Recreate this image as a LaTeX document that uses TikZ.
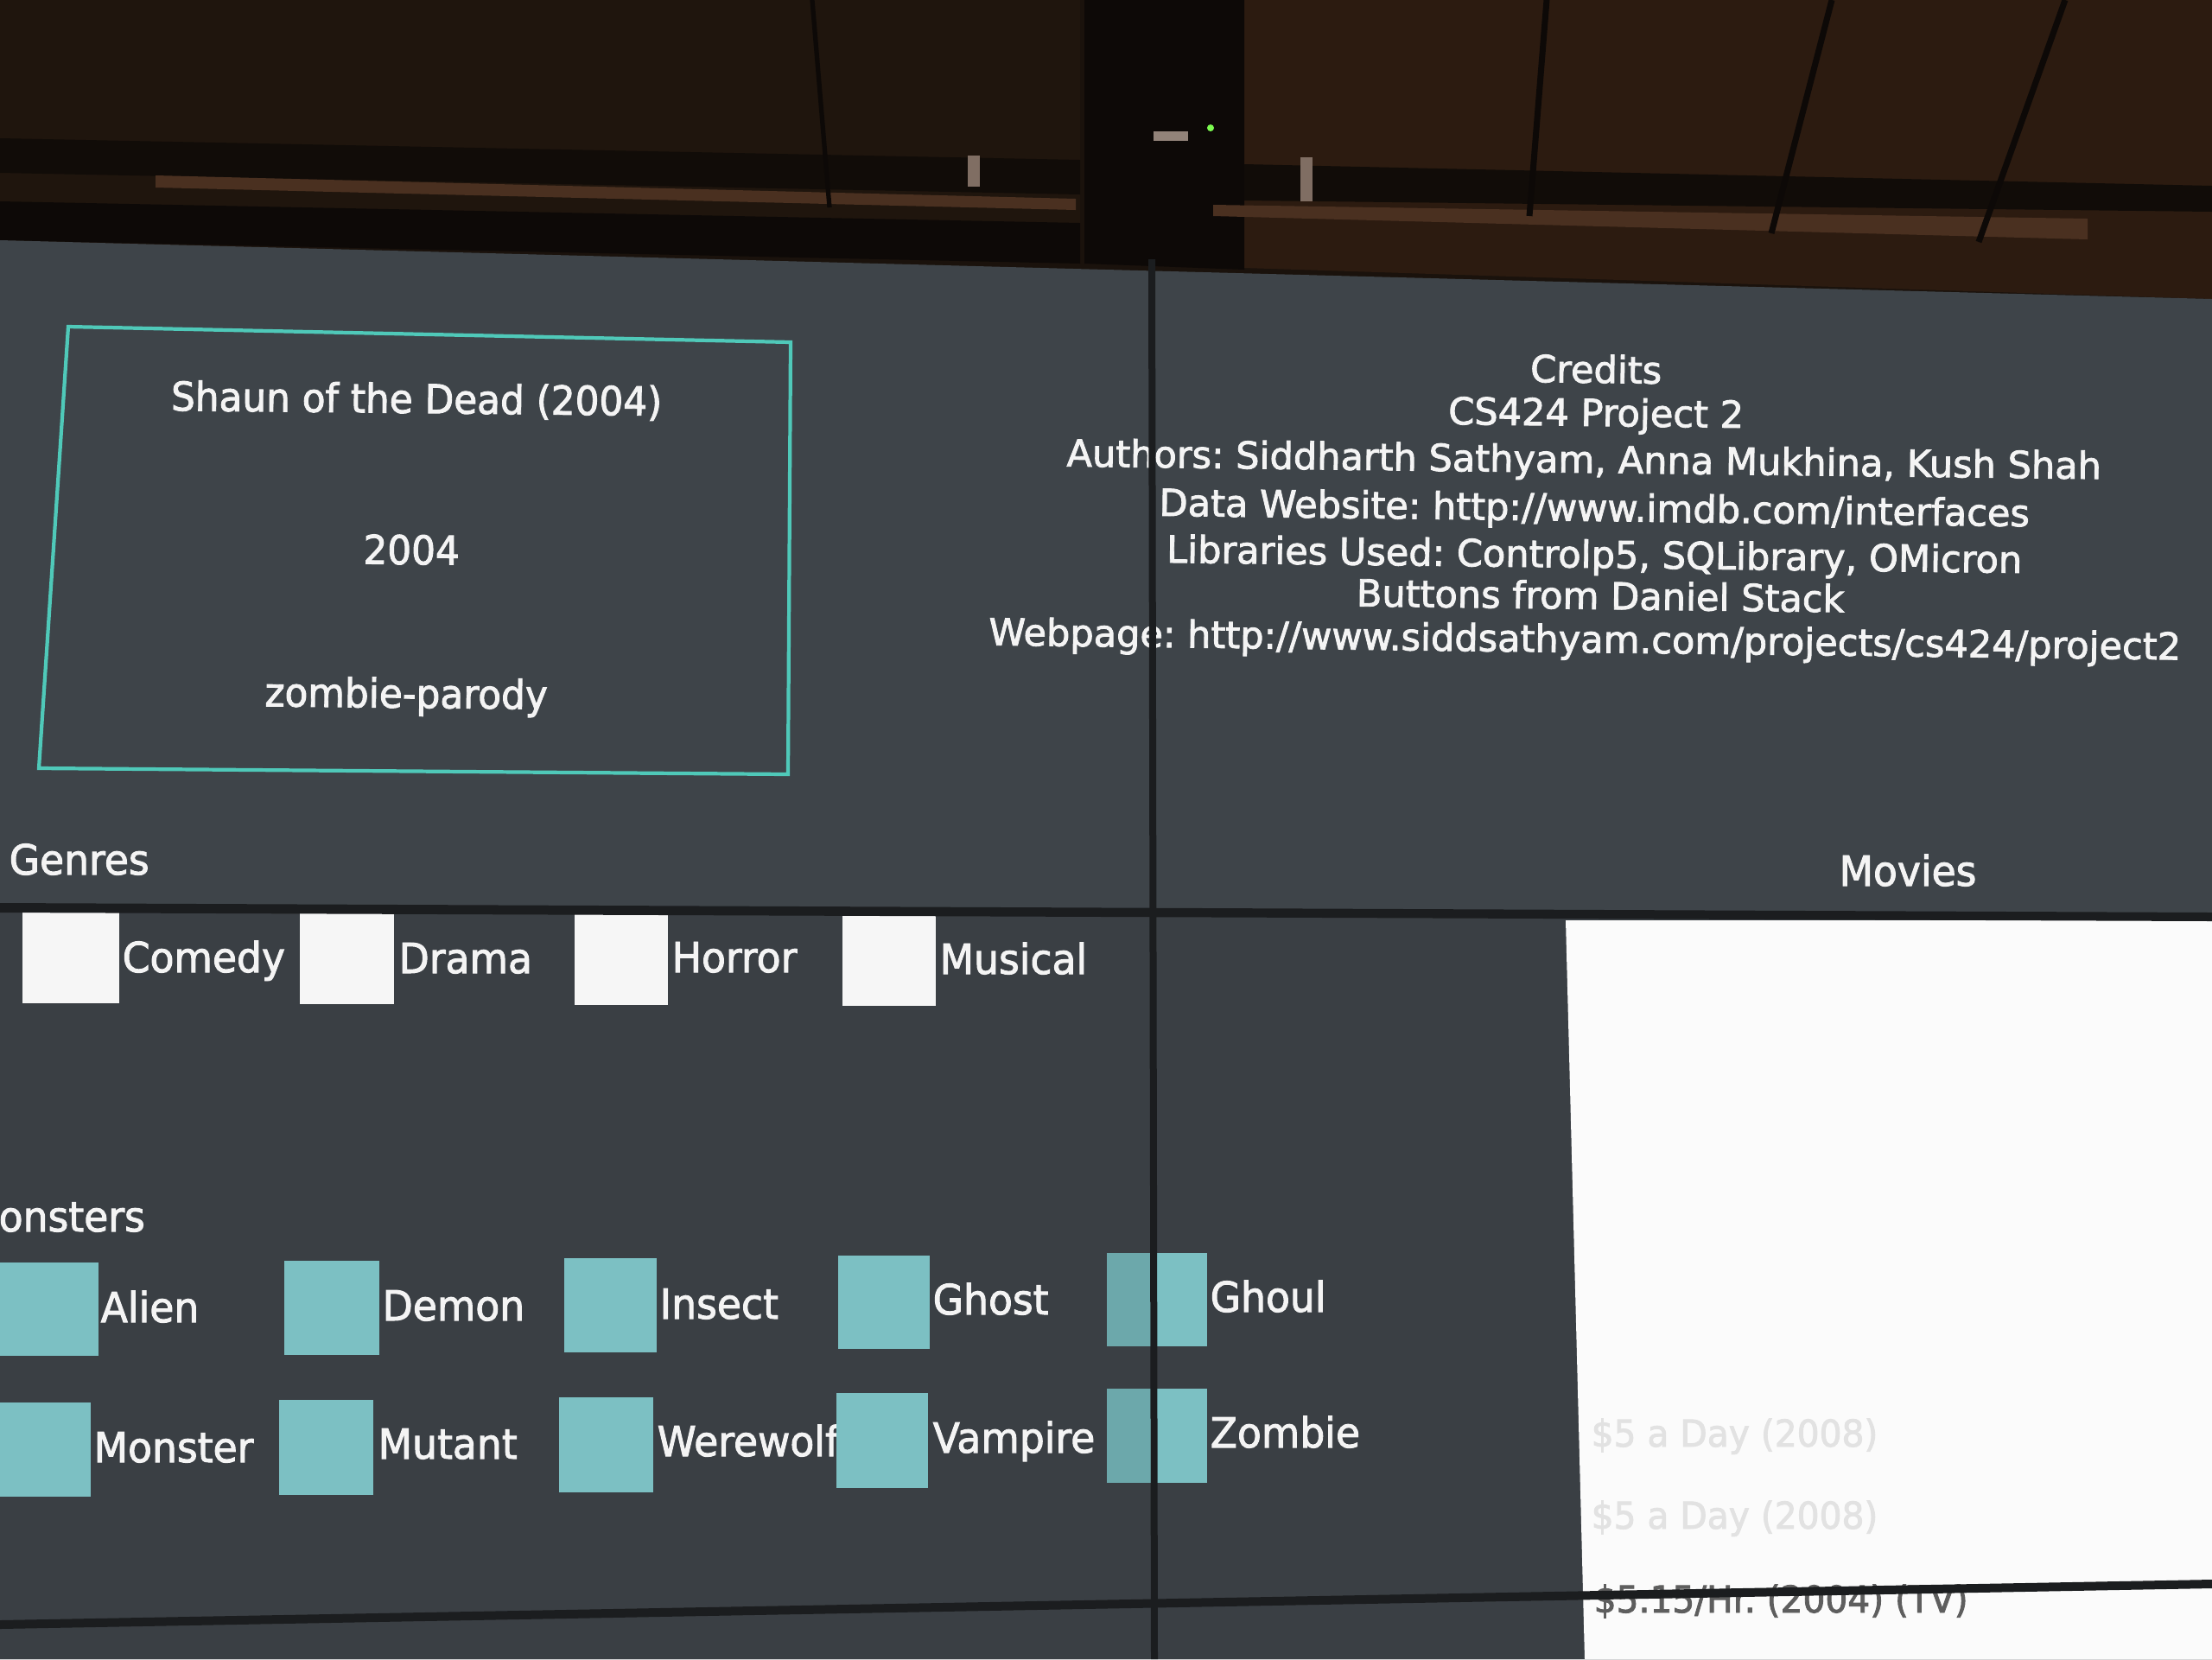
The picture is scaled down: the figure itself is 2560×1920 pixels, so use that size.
\documentclass[tikz,border=0pt]{standalone}
\usepackage{fontspec}
\setmainfont{DejaVu Sans}[FakeStretch=0.95, FakeBold=2]
\newfontfamily\credfont{DejaVu Sans}[FakeStretch=1.0, FakeBold=2]
\definecolor{ceil}{HTML}{1A120C}
\definecolor{ceilL}{HTML}{1F150D}
\definecolor{ceilR}{HTML}{2C1B10}
\definecolor{pillar}{HTML}{0D0907}
\definecolor{beam}{HTML}{4A3020}
\definecolor{screenA}{HTML}{3E4449}
\definecolor{screenB}{HTML}{3A3F44}
\definecolor{bezel}{HTML}{1B1D1F}
\definecolor{monteal}{HTML}{7CC0C3}
\definecolor{boxteal}{HTML}{4FC9B9}
\definecolor{genw}{HTML}{F6F6F6}
\definecolor{txtw}{HTML}{F4F4F4}
\definecolor{listbg}{HTML}{FBFBFB}
\definecolor{listfaint}{HTML}{E2E2E2}
\definecolor{listdark}{HTML}{5E5E5E}
\definecolor{led}{HTML}{7CFC50}
\tikzset{
  lbl/.style={inner sep=0pt, anchor=base west, text=txtw, font=\fontsize{13.66}{16}\selectfont},
  credit/.style={inner sep=0pt, anchor=base, text=txtw, font=\credfont\fontsize{12.25}{14}\selectfont, rotate=-0.7},
  boxtxt/.style={inner sep=0pt, anchor=base, text=txtw, font=\fontsize{13.1}{15}\selectfont, rotate=-0.6},
  listtxt/.style={inner sep=0pt, anchor=base west, font=\fontsize{12.2}{14}\selectfont},
  gbox/.style={inner sep=0pt, outer sep=0pt, anchor=north west, fill=genw},
  mbox/.style={inner sep=0pt, outer sep=0pt, anchor=north west, fill=monteal},
}
\begin{document}
\frenchspacing
\begin{tikzpicture}[x=0.01cm, y=-0.01cm]
\useasboundingbox (0,0) rectangle (2560,1920);
\clip (0,0) rectangle (2560,1920);
% ceiling
\fill[ceil] (0,0) rectangle (2560,400);
\fill[ceilL] (0,0) -- (1250,0) -- (1250,300) -- (0,278) -- cycle;
\fill[ceilR] (1440,0) -- (2560,0) -- (2560,346) -- (1440,310) -- cycle;
\fill[pillar] (1255,0) -- (1440,0) -- (1440,312) -- (1255,305) -- cycle;
\fill[pillar!70!ceil] (0,160) -- (1250,185) -- (1250,225) -- (0,200) -- cycle;
\fill[pillar!70!ceil] (1440,190) -- (2560,215) -- (2560,245) -- (1440,232) -- cycle;
\fill[beam] (180,203) -- (1245,230) -- (1245,243) -- (180,217) -- cycle;
\fill[beam] (1404,237) -- (2416,253) -- (2416,277) -- (1404,250) -- cycle;
\fill[pillar] (0,233) -- (1250,258) -- (1250,305) -- (0,278) -- cycle;
\draw[pillar, line width=2pt] (1790,0) -- (1770,250);
\draw[pillar, line width=2pt] (2120,0) -- (2050,270);
\draw[pillar, line width=2pt] (2390,0) -- (2290,280);
\draw[pillar, line width=1.5pt] (940,0) -- (960,240);
\fill[beam!70!white] (1120,180) rectangle (1134,216);
\fill[beam!70!white] (1505,182) rectangle (1519,233);
\fill[beam!60!white] (1335,152) rectangle (1375,163);
\fill[led] (1401,148) circle (4);
% screen
\fill[screenA] (0,278) -- (2560,346) -- (2560,1920) -- (0,1920) -- cycle;
\fill[screenB] (0,1055) -- (2560,1061) -- (2560,1920) -- (0,1920) -- cycle;
% list panel
\fill[listbg] (1812,1065) -- (2560,1065) -- (2560,1920) -- (1834,1920) -- cycle;
% movie box
\draw[boxteal, line width=1.2pt] (79,378) -- (915,396) -- (912,896) -- (45,889) -- cycle;
\node[boxtxt] (title) at (482,478) {Shaun of the Dead (2004)};
\node[boxtxt] (year) at (476,653) {2004};
\node[boxtxt] (tag) at (470,819) {zombie-parody};
% credits
\node[credit] (c1) at (1847,443) {Credits};
\node[credit] (c2) at (1847,493) {CS424 Project 2};
\node[credit] (c3) at (1833,547) {Authors: Siddharth Sathyam, Anna Mukhina, Kush Shah};
\node[credit] (c4) at (1845,603) {Data Website: http://www.imdb.com/interfaces};
\node[credit] (c5) at (1845,657) {Libraries Used: Controlp5, SQLibrary, OMicron};
\node[credit] (c6) at (1852,705) {Buttons from Daniel Stack};
\node[credit] (c7) at (1834,755) {Webpage: http://www.siddsathyam.com/projects/cs424/project2};
% genres
\node[lbl] (genres) at (10,1012) {Genres};
\node[gbox, minimum width=1.12cm, minimum height=1.06cm] (bComedy) at (26,1055) {};
\node[lbl] (tComedy) at (141,1125) {Comedy};
\node[gbox, minimum width=1.09cm, minimum height=1.05cm] (bDrama) at (347,1057) {};
\node[lbl] (tDrama) at (461,1126) {Drama};
\node[gbox, minimum width=1.08cm, minimum height=1.05cm] (bHorror) at (665,1058) {};
\node[lbl] (tHorror) at (777,1125) {Horror};
\node[gbox, minimum width=1.08cm, minimum height=1.05cm] (bMusical) at (975,1059) {};
\node[lbl] (tMusical) at (1087,1127) {Musical};
\node[lbl, anchor=base] (movies) at (2208,1025) {Movies};
% monsters
\node[lbl] (monsters) at (-2,1425) {onsters};
\node[mbox, minimum width=1.14cm, minimum height=1.08cm] (bAlien) at (0,1461) {};
\node[lbl] (tAlien) at (116,1530) {Alien};
\node[mbox, minimum width=1.10cm, minimum height=1.09cm] (bDemon) at (329,1459) {};
\node[lbl] (tDemon) at (442,1528) {Demon};
\node[mbox, minimum width=1.07cm, minimum height=1.09cm] (bInsect) at (653,1456) {};
\node[lbl] (tInsect) at (763,1526) {Insect};
\node[mbox, minimum width=1.06cm, minimum height=1.08cm] (bGhost) at (970,1453) {};
\node[lbl] (tGhost) at (1079,1521) {Ghost};
\node[mbox, minimum width=1.16cm, minimum height=1.08cm] (bGhoul) at (1281,1450) {};
\node[lbl] (tGhoul) at (1400,1518) {Ghoul};
\node[mbox, minimum width=1.05cm, minimum height=1.09cm] (bMonster) at (0,1623) {};
\node[lbl] (tMonster) at (108,1692) {Monster};
\node[mbox, minimum width=1.09cm, minimum height=1.10cm] (bMutant) at (323,1620) {};
\node[lbl] (tMutant) at (437,1688) {Mutant};
\node[mbox, minimum width=1.09cm, minimum height=1.10cm] (bWerewolf) at (647,1617) {};
\node[lbl] (tWerewolf) at (760,1685) {Werewolf};
\node[mbox, minimum width=1.06cm, minimum height=1.10cm] (bVampire) at (968,1612) {};
\node[lbl] (tVampire) at (1079,1681) {Vampire};
\node[mbox, minimum width=1.16cm, minimum height=1.09cm] (bZombie) at (1281,1607) {};
\node[lbl] (tZombie) at (1400,1675) {Zombie};
\fill[black, opacity=0.12] (1281,1450) rectangle (1331,1558);
\fill[black, opacity=0.12] (1281,1607) rectangle (1331,1716);
% movie list
\node[listtxt, text=listfaint] (m1) at (1841,1674) {\$5 a Day (2008)};
\node[listtxt, text=listfaint] (m2) at (1841,1769) {\$5 a Day (2008)};
\node[listtxt, text=listdark] (m3) at (1844,1866) {\$5.15/Hr. (2004) (TV)};
% bezels
\fill[bezel] (1329,300) -- (1337,300) -- (1340,1920) -- (1332,1920) -- cycle;
\fill[bezel] (0,1045) -- (2560,1056) -- (2560,1066) -- (0,1056) -- cycle;
\fill[bezel] (0,1875) -- (2560,1828) -- (2560,1838) -- (0,1885) -- cycle;
\end{tikzpicture}
\end{document}
